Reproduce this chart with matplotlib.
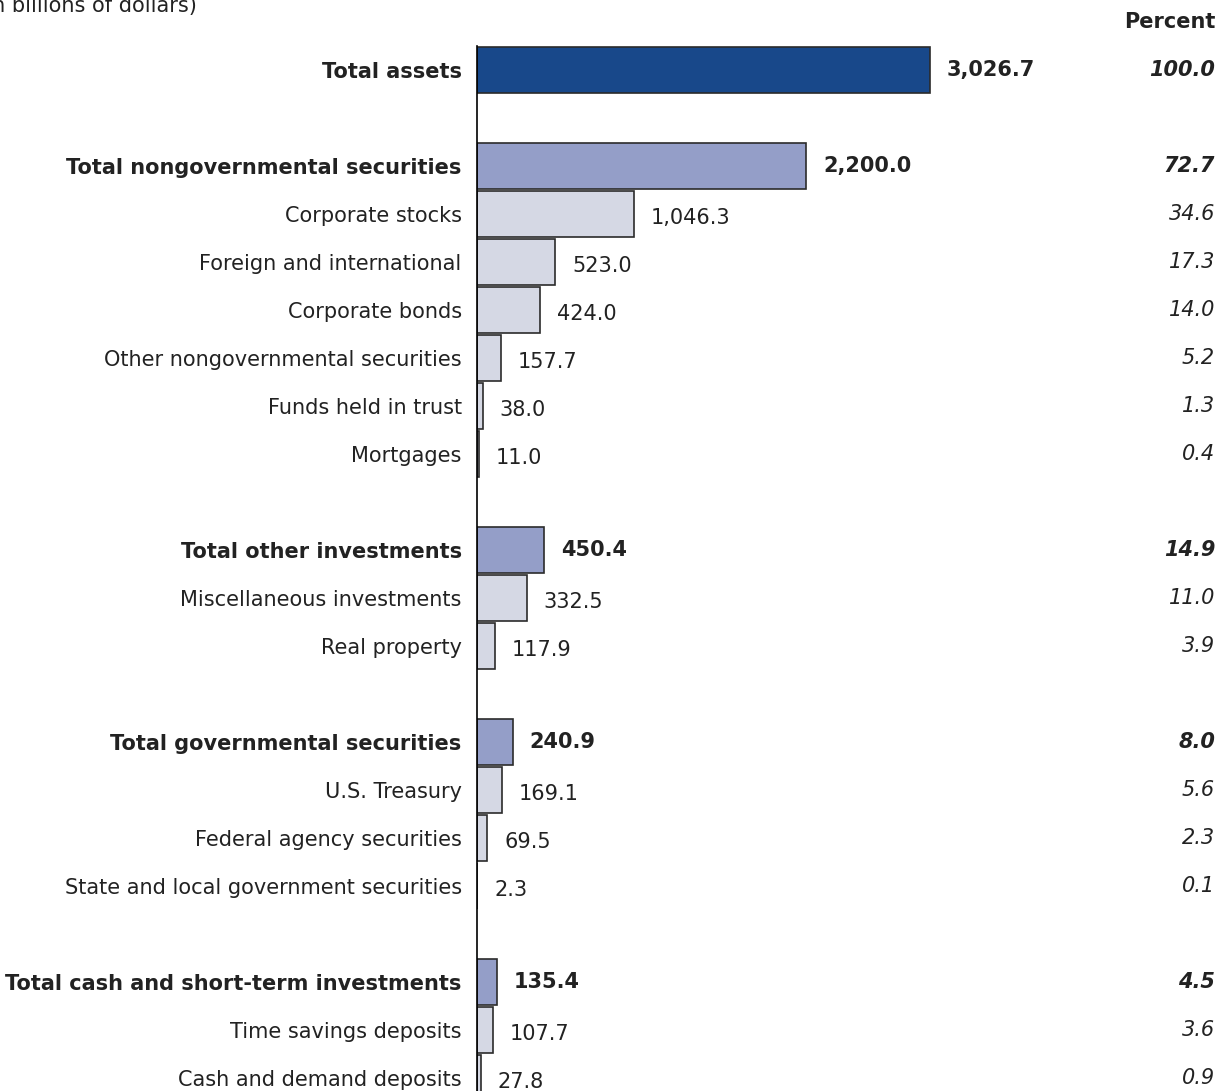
import matplotlib.pyplot as plt
import matplotlib.transforms as mtransforms

plt.rcParams['font.family'] = ['DejaVu Sans']

# data (billions of dollars)
labels = ["Total assets",
          "Total nongovernmental securities", "Corporate stocks", "Foreign and international",
          "Corporate bonds", "Other nongovernmental securities", "Funds held in trust", "Mortgages",
          "Total other investments", "Miscellaneous investments", "Real property",
          "Total governmental securities", "U.S. Treasury", "Federal agency securities",
          "State and local government securities",
          "Total cash and short-term investments", "Time savings deposits", "Cash and demand deposits"]
values = [3026.7,
          2200.0, 1046.3, 523.0, 424.0, 157.7, 38.0, 11.0,
          450.4, 332.5, 117.9,
          240.9, 169.1, 69.5, 2.3,
          135.4, 107.7, 27.8]
percents = [100.0,
            72.7, 34.6, 17.3, 14.0, 5.2, 1.3, 0.4,
            14.9, 11.0, 3.9,
            8.0, 5.6, 2.3, 0.1,
            4.5, 3.6, 0.9]
levels = [0, 1, 2, 2, 2, 2, 2, 2, 1, 2, 2, 1, 2, 2, 2, 1, 2, 2]

# row positions: blank row before every total
pos = []
y = 0
for i, lv in enumerate(levels):
    if i > 0 and lv <= 1:
        y += 1
    pos.append(y)
    y += 1

fill = {0: "#18488a", 1: "#949ec8", 2: "#d5d8e4"}
FS = 15
W, H = 1225, 1091
fig = plt.figure(figsize=(W / 100, H / 100), dpi=100)
x0 = 477 / W
ax = fig.add_axes([x0, 0, 1 - x0, 1])

ax.barh(pos, values, height=0.96, color=[fill[l] for l in levels],
        edgecolor="#2b2b2b", linewidth=1.2)

ax.set_xlim(0, 748 / 0.1497)
ytop = -70 / 48
ybot = (H - 70) / 48
ax.set_ylim(ybot, ytop)

for s in ["top", "right", "bottom"]:
    ax.spines[s].set_visible(False)
ax.spines["left"].set_bounds(-0.49, ybot)
ax.spines["left"].set_linewidth(1.2)
ax.set_xticks([])
ax.set_yticks(pos)
ax.set_yticklabels(labels, fontsize=FS, color="#222222")
ax.tick_params(axis="y", length=0, pad=11)
for t, lv in zip(ax.get_yticklabels(), levels):
    if lv <= 1:
        t.set_fontweight("bold")

trans = mtransforms.blended_transform_factory(fig.transFigure, ax.transData)
for p, v, pc, lv in zip(pos, values, percents, levels):
    bold = "bold" if lv <= 1 else "normal"
    dy = 0 if lv <= 1 else -3
    ax.annotate(f"{v:,.1f}", (v, p), xytext=(12, dy), textcoords="offset points",
                ha="left", va="center", fontsize=FS, fontweight=bold, color="#222222")
    ax.text(1215 / W, p, f"{pc:.1f}", transform=trans, ha="right", va="center",
            fontsize=FS, fontweight=bold, style="italic", color="#222222")

fig.text(1215 / W, 1 - 22 / H, "Percent", ha="right", va="center",
         fontsize=FS, fontweight="bold", color="#222222")
fig.text(197 / W, 1 - 12 / H, "(In billions of dollars)", ha="right", va="baseline",
         fontsize=FS, color="#222222")

fig.savefig("out.png", dpi=100)
